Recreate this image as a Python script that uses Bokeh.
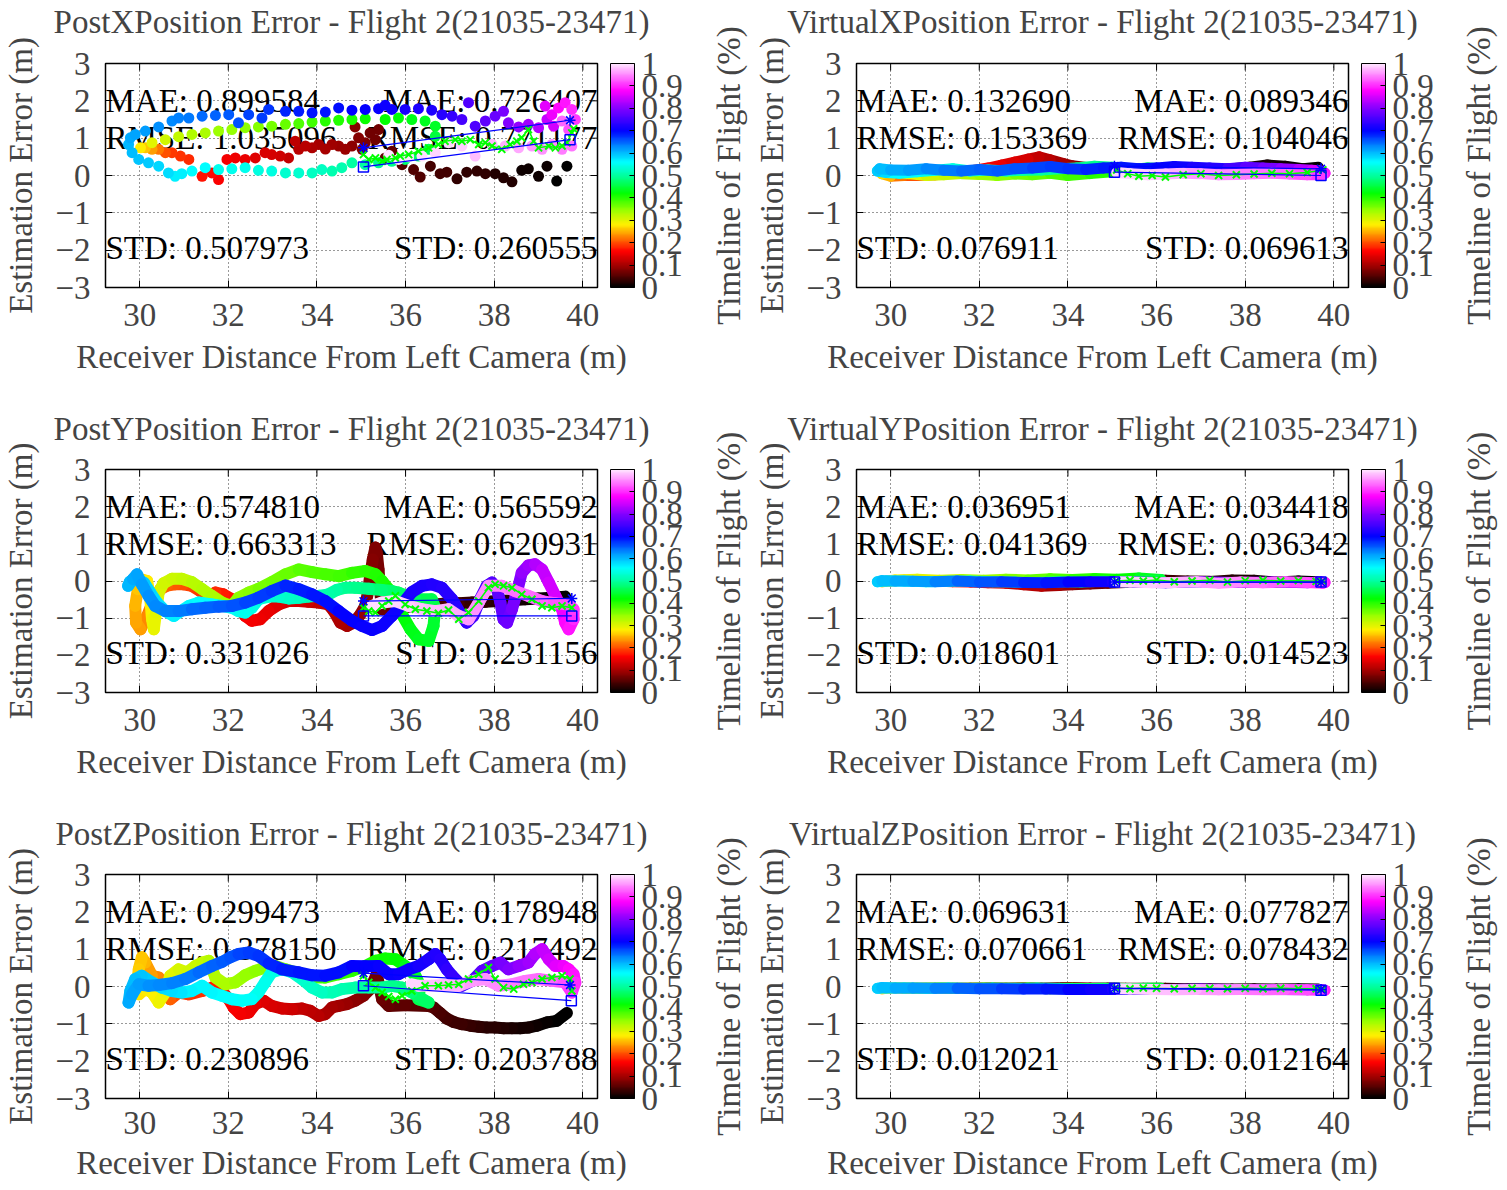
import numpy as np
from bokeh.plotting import figure
from bokeh.models import (Range1d, FixedTicker, ColorBar, LinearColorMapper, Label, LinearAxis,
                          ColumnDataSource, CustomJSTickFormatter, AllLabels)
from bokeh.layouts import column, row
from bokeh.transform import linear_cmap
from bokeh.embed import file_html
from bokeh.resources import INLINE

# ---------------- data ----------------
X_TICKS = [30, 32, 34, 36, 38, 40]
Y_TICKS = [-3, -2, -1, 0, 1, 2, 3]
CB_TICKS = [0, 0.1, 0.2, 0.3, 0.4, 0.5, 0.6, 0.7, 0.8, 0.9, 1]
X_MIN, X_MAX = 29.23, 40.33

TITLES = ["PostXPosition Error - Flight 2(21035-23471)",
          "VirtualXPosition Error - Flight 2(21035-23471)",
          "PostYPosition Error - Flight 2(21035-23471)",
          "VirtualYPosition Error - Flight 2(21035-23471)",
          "PostZPosition Error - Flight 2(21035-23471)",
          "VirtualZPosition Error - Flight 2(21035-23471)"]

STATS_LEFT = [["MAE: 0.899584", "RMSE: 1.035096", "STD: 0.507973"],
              ["MAE: 0.132690", "RMSE: 0.153369", "STD: 0.076911"],
              ["MAE: 0.574810", "RMSE: 0.663313", "STD: 0.331026"],
              ["MAE: 0.036951", "RMSE: 0.041369", "STD: 0.018601"],
              ["MAE: 0.299473", "RMSE: 0.378150", "STD: 0.230896"],
              ["MAE: 0.069631", "RMSE: 0.070661", "STD: 0.012021"]]
STATS_RIGHT = [["MAE: 0.726407", "RMSE: 0.771177", "STD: 0.260555"],
               ["MAE: 0.089346", "RMSE: 0.104046", "STD: 0.069613"],
               ["MAE: 0.565592", "RMSE: 0.620931", "STD: 0.231156"],
               ["MAE: 0.034418", "RMSE: 0.036342", "STD: 0.014523"],
               ["MAE: 0.178948", "RMSE: 0.217492", "STD: 0.203788"],
               ["MAE: 0.077827", "RMSE: 0.078432", "STD: 0.012164"]]

# ---- PostX ----
postx_x = [39.64, 39.41, 39.19, 39.00, 38.77, 38.62, 38.40, 38.21, 38.02, 37.80, 37.61, 37.38, 37.16, 36.93, 36.78, 36.56, 36.33, 36.18, 35.92, 35.69, 35.54,
           35.39, 35.32, 35.20, 35.09, 35.02, 34.94, 34.86, 34.79, 34.64, 34.49, 34.34, 34.19, 34.04, 33.89, 33.74, 33.59, 33.51,
           33.36, 33.17, 32.98, 32.83, 32.61, 32.38, 32.16, 31.97, 31.78, 31.63, 31.41, 31.11, 30.92, 30.73,
           30.58, 30.43, 30.28, 30.13, 30.02,
           30.28, 30.58, 30.88, 31.18, 31.48, 31.78, 32.08, 32.38, 32.68, 32.98, 33.29, 33.59, 33.89, 34.19, 34.49, 34.79, 35.09, 35.54, 35.84, 36.14, 36.44, 36.67,
           36.67, 36.52, 36.29, 35.99, 35.69, 35.39, 35.09, 34.79, 34.56, 34.34, 34.11, 33.89, 33.59, 33.29, 32.98, 32.68, 32.38, 32.08, 31.78, 31.48, 31.18, 30.95, 30.80,
           30.65, 30.43, 30.20, 29.98, 29.83, 29.75, 29.79, 29.90, 30.13, 30.43, 30.73, 30.88,
           31.11, 31.41, 31.71, 32.01, 32.23, 32.46, 32.76, 32.91, 33.29, 33.59, 33.89, 34.19, 34.49, 34.79, 35.09, 35.39, 35.54, 35.69, 35.99, 36.29, 36.59, 36.82,
           37.05, 37.27, 37.42, 37.57, 37.80, 38.02, 38.21, 38.32, 38.55, 38.77, 39.00, 39.19, 39.34,
           39.15, 39.30, 39.45, 39.60, 39.75, 39.83, 39.68, 39.53,
           39.75, 39.53, 39.30, 39.08, 38.85, 38.55, 38.25, 37.95, 37.57, 37.27, 36.97, 36.67, 36.37, 36.07, 35.84, 35.62]
postx_y = [0.25, -0.15, 0.25, -0.02, 0.18, 0.14, -0.17, -0.06, 0.05, 0.05, 0.12, 0.09, -0.09, 0.09, 0.05, 0.25, -0.04, 0.16, 0.29, 0.65, 0.47,
           1.23, 0.96, 1.14, 0.88, 0.70, 1.01, 1.30, 0.79, 0.70, 0.79, 0.83, 0.71, 0.83, 0.74, 0.79, 0.70, 0.92,
           0.47, 0.52, 0.56, 0.61, 0.47, 0.43, 0.47, 0.43, -0.11, 0.07, -0.02, 0.43, 0.52, 0.61,
           0.61, 0.70, 0.70, 0.74, 0.74,
           0.88, 0.96, 1.04, 1.10, 1.14, 1.19, 1.23, 1.28, 1.30, 1.32, 1.37, 1.39, 1.43, 1.46, 1.48, 1.50, 1.52, 1.50, 1.54, 1.50, 1.46, 1.32,
           1.05, 0.70, 0.52, 0.43, 0.38, 0.34, 0.29, 0.34, 0.21, 0.12, 0.16, 0.07, 0.07, 0.07, 0.12, 0.14, 0.21, 0.18, 0.16, 0.21, 0.12, 0.05, -0.02,
           0.07, 0.25, 0.34, 0.43, 0.61, 0.83, 1.01, 1.10, 1.19, 1.30, 1.46, 1.54,
           1.54, 1.59, 1.61, 1.63, 1.41, 1.63, 1.54, 1.77, 1.72, 1.72, 1.68, 1.70, 1.81, 1.75, 1.77, 1.79, 1.88, 1.77, 1.77, 1.79, 1.75, 1.63,
           1.59, 1.50, 1.95, 1.32, 1.46, 1.59, 1.72, 1.41, 1.30, 1.37, 1.28, 1.50, 1.32,
           1.86, 1.63, 1.81, 1.95, 1.77, 1.50, 1.23, 1.46,
           0.79, 0.70, 0.83, 0.70, 0.79, 0.74, 0.79, 0.83, 0.52, 0.79, 0.88, 0.61, 0.52, 0.50, 0.43, 0.54]
postx_t = [0.00, 0.00, 0.01, 0.01, 0.01, 0.01, 0.02, 0.02, 0.02, 0.03, 0.03, 0.03, 0.03, 0.04, 0.04, 0.04, 0.05, 0.05, 0.05, 0.06, 0.06,
           0.07, 0.07, 0.07, 0.075, 0.075, 0.08, 0.08, 0.085, 0.09, 0.09, 0.095, 0.10, 0.10, 0.105, 0.11, 0.11, 0.115,
           0.12, 0.125, 0.13, 0.135, 0.14, 0.145, 0.15, 0.155, 0.16, 0.165, 0.17, 0.18, 0.185, 0.19,
           0.20, 0.22, 0.24, 0.26, 0.28,
           0.30, 0.31, 0.32, 0.33, 0.335, 0.34, 0.345, 0.35, 0.355, 0.36, 0.37, 0.38, 0.39, 0.40, 0.405, 0.41, 0.415, 0.42, 0.425, 0.43, 0.435, 0.44,
           0.45, 0.46, 0.47, 0.48, 0.49, 0.49, 0.50, 0.50, 0.51, 0.51, 0.52, 0.52, 0.53, 0.53, 0.54, 0.54, 0.55, 0.55, 0.55, 0.56, 0.56, 0.57, 0.57,
           0.58, 0.585, 0.59, 0.595, 0.60, 0.605, 0.61, 0.615, 0.62, 0.625, 0.63, 0.635,
           0.64, 0.645, 0.65, 0.655, 0.66, 0.665, 0.67, 0.675, 0.68, 0.685, 0.69, 0.69, 0.695, 0.70, 0.70, 0.705, 0.71, 0.71, 0.715, 0.72, 0.72, 0.73,
           0.74, 0.75, 0.76, 0.76, 0.77, 0.78, 0.79, 0.80, 0.81, 0.82, 0.83, 0.84, 0.85,
           0.86, 0.87, 0.88, 0.89, 0.90, 0.91, 0.92, 0.93,
           0.94, 0.945, 0.95, 0.955, 0.96, 0.965, 0.97, 0.975, 0.98, 0.985, 0.99, 0.99, 0.995, 1.0, 1.0, 1.0]
postx_cross_x = [35.05, 35.17, 35.32, 35.47, 35.58, 35.77, 35.88, 36.07, 36.29, 36.52, 36.74, 36.89, 37.12, 37.27, 37.46, 37.65,
                 37.80, 37.95, 38.17, 38.36, 38.51, 38.62, 38.77, 38.89, 39.00, 39.23, 39.38, 39.53, 39.64, 39.75, 39.79]
postx_cross_y = [0.56, 0.43, 0.47, 0.38, 0.43, 0.47, 0.52, 0.56, 0.65, 0.74, 0.83, 0.92, 0.96, 0.92, 0.96, 0.83,
                 0.88, 0.79, 0.70, 0.83, 0.92, 1.01, 1.23, 0.92, 0.74, 0.79, 0.74, 0.79, 0.88, 1.14, 1.25]
postx_star_x, postx_star_y = [35.05, 39.71], [0.74, 1.48]
postx_sq_x, postx_sq_y = [35.05, 39.71], [0.23, 0.96]

# ---- PostY ----
posty_x = [39.60, 39.30, 39.00, 38.70, 38.40, 38.10, 37.80, 37.50, 37.20, 36.97, 36.50, 36.00, 35.62,
           35.47, 35.43, 35.39, 35.35, 35.32, 35.26, 35.20, 35.15, 35.09, 34.98, 34.83, 34.68, 34.53, 34.38, 34.26,
           34.04, 33.81, 33.59, 33.36, 33.14, 32.91, 32.72, 32.53, 32.38, 32.23, 32.08, 31.89, 31.71, 31.56, 31.37, 31.18, 30.99, 30.80, 30.62, 30.47,
           30.32, 30.17, 30.02, 29.92, 29.90, 29.96, 30.05,
           30.17, 30.24, 30.28, 30.32, 30.37, 30.43, 30.54, 30.73, 30.95, 31.18, 31.41, 31.63, 31.86, 32.08,
           32.23, 32.46, 32.68, 32.98, 33.29, 33.59, 33.89, 34.19, 34.49, 34.79, 35.09, 35.32, 35.47, 35.62, 35.77, 35.92, 36.11, 36.29, 36.52, 36.63, 36.67,
           36.59, 36.22, 35.84, 35.69, 35.47, 35.17, 34.86, 34.64, 34.45, 34.26, 34.04, 33.81, 33.59, 33.36, 33.14, 32.91, 32.68, 32.53, 32.38, 32.23, 32.08, 31.86, 31.63, 31.33, 31.11, 30.88, 30.77,
           30.58, 30.39, 30.24, 30.10, 29.92, 29.78, 29.74, 29.85, 29.94,
           30.05, 30.20, 30.35, 30.58, 30.88, 31.18, 31.48, 31.78, 32.08, 32.38, 32.68, 32.98, 33.29, 33.59, 33.89, 34.19, 34.49, 34.79, 35.02, 35.24, 35.47, 35.69, 35.92, 36.14, 36.37, 36.59, 36.82, 37.05, 37.27, 37.38,
           37.53, 37.68, 37.83, 37.95, 38.06, 38.14, 38.21, 38.29, 38.40, 38.51, 38.62, 38.77, 38.92, 39.08, 39.23, 39.38,
           39.53, 39.60, 39.68, 39.79, 39.79,
           39.68, 39.38, 39.08, 38.77, 38.47, 38.17, 37.87, 37.65, 37.42, 37.20, 36.97, 36.67, 36.37, 36.07, 35.77, 35.47, 35.24]
posty_y = [-0.42, -0.45, -0.47, -0.49, -0.52, -0.54, -0.56, -0.58, -0.60, -0.60, -0.65, -0.70, -0.76,
           -0.76, -0.31, 0.31, 0.76, 0.90, 0.58, 0.13, -0.31, -0.67, -0.90, -1.12, -1.21, -1.12, -0.81, -0.63,
           -0.58, -0.56, -0.54, -0.54, -0.63, -0.81, -1.03, -1.07, -0.94, -0.67, -0.49, -0.36, -0.31, -0.40, -0.27, -0.13, -0.09, -0.09, -0.12, -0.22,
           -0.49, -0.94, -1.30, -1.12, -0.67, -0.22, 0.04,
           0.0, -0.49, -1.03, -1.30, -0.85, -0.31, -0.06, 0.06, 0.06, -0.03, -0.22, -0.40, -0.58, -0.67,
           -0.45, -0.31, -0.21, -0.03, 0.18, 0.31, 0.24, 0.18, 0.13, 0.22, 0.27, 0.18, 0.0, -0.22, -0.54, -0.90, -1.30, -1.57, -1.61, -1.21, -0.72,
           -0.49, -0.49, -0.31, -0.27, -0.24, -0.21, -0.18, -0.18, -0.24, -0.36, -0.40, -0.42, -0.45, -0.47, -0.42, -0.42, -0.49, -0.72, -0.85, -0.81, -0.72, -0.67, -0.63, -0.58, -0.67, -0.85, -0.94,
           -0.81, -0.58, -0.31, -0.05, 0.06, -0.02, -0.13, 0.05, 0.18,
           -0.09, -0.40, -0.67, -0.81, -0.81, -0.76, -0.72, -0.69, -0.67, -0.58, -0.45, -0.27, -0.12, -0.22, -0.36, -0.54, -0.81, -1.07, -1.21, -1.32, -1.21, -0.94, -0.63, -0.30, -0.13, -0.09, -0.18, -0.49, -0.94, -1.12,
           -0.94, -0.49, -0.13, -0.04, -0.22, -0.58, -1.03, -1.12, -0.76, -0.31, 0.22, 0.42, 0.45, 0.31, -0.04, -0.40,
           -0.76, -1.12, -1.30, -1.03, -0.76,
           -0.63, -0.60, -0.54, -0.40, -0.27, -0.13, -0.13, -0.58, -1.03, -0.94, -0.76, -0.81, -0.76, -0.67, -0.54, -0.58, -0.67]
posty_t = [0.00, 0.005, 0.01, 0.015, 0.02, 0.025, 0.03, 0.035, 0.04, 0.045, 0.05, 0.055, 0.06,
           0.065, 0.07, 0.072, 0.075, 0.077, 0.08, 0.082, 0.085, 0.087, 0.09, 0.095, 0.10, 0.105, 0.11, 0.115,
           0.12, 0.125, 0.13, 0.135, 0.14, 0.145, 0.15, 0.155, 0.16, 0.165, 0.17, 0.175, 0.18, 0.185, 0.19, 0.195, 0.20, 0.205, 0.21, 0.215,
           0.22, 0.23, 0.24, 0.245, 0.25, 0.26, 0.27,
           0.28, 0.285, 0.29, 0.295, 0.30, 0.305, 0.31, 0.315, 0.32, 0.325, 0.33, 0.335, 0.34, 0.345,
           0.35, 0.355, 0.36, 0.365, 0.37, 0.375, 0.38, 0.385, 0.39, 0.395, 0.40, 0.405, 0.41, 0.415, 0.42, 0.425, 0.43, 0.435, 0.44, 0.445, 0.45,
           0.46, 0.465, 0.47, 0.475, 0.48, 0.485, 0.49, 0.495, 0.50, 0.505, 0.51, 0.515, 0.52, 0.525, 0.53, 0.535, 0.54, 0.545, 0.55, 0.55, 0.555, 0.555, 0.56, 0.56, 0.565, 0.565, 0.57,
           0.575, 0.58, 0.585, 0.59, 0.595, 0.60, 0.605, 0.61, 0.615,
           0.62, 0.625, 0.63, 0.635, 0.64, 0.645, 0.65, 0.655, 0.66, 0.665, 0.67, 0.675, 0.68, 0.685, 0.69, 0.695, 0.70, 0.70, 0.705, 0.705, 0.71, 0.71, 0.715, 0.72, 0.72, 0.725, 0.73, 0.73, 0.735, 0.74,
           0.75, 0.755, 0.76, 0.765, 0.77, 0.775, 0.78, 0.785, 0.79, 0.80, 0.81, 0.82, 0.83, 0.84, 0.85, 0.855,
           0.87, 0.88, 0.89, 0.90, 0.91,
           0.92, 0.925, 0.93, 0.935, 0.94, 0.945, 0.95, 0.955, 0.96, 0.965, 0.97, 0.975, 0.98, 0.985, 0.99, 0.995, 1.0]
posty_cross_x = [35.05, 35.17, 35.32, 35.47, 35.62, 35.77, 35.99, 36.22, 36.48, 36.74, 36.97, 37.20, 37.42, 37.65, 37.87, 38.02,
                 38.21, 38.40, 38.62, 38.85, 39.08, 39.30, 39.53, 39.75]
posty_cross_y = [-0.72, -0.81, -0.85, -0.67, -0.54, -0.40, -0.63, -0.76, -0.81, -0.87, -0.78, -1.03, -0.85, -0.54, -0.18, -0.09,
                 -0.13, -0.18, -0.36, -0.49, -0.67, -0.72, -0.67, -0.72]
posty_star_x, posty_star_y = [35.05, 39.75], [-0.54, -0.47]
posty_sq_x, posty_sq_y = [35.05, 39.75], [-0.94, -0.94]

# ---- PostZ ----
postz_x = [39.64, 39.41, 39.19, 38.96, 38.77, 38.59, 38.40, 38.21, 38.02, 37.83, 37.65, 37.46, 37.27, 37.08, 36.93, 36.78, 36.63, 36.52, 36.00, 35.62,
           35.47, 35.35, 35.20, 35.05, 34.86, 34.68, 34.49, 34.34, 34.19,
           34.04, 33.85, 33.66, 33.44, 33.21, 32.98, 32.80, 32.61, 32.46, 32.27, 32.12, 32.01, 31.86, 31.71, 31.56, 31.41,
           31.11, 30.88, 30.69, 30.50, 30.43,
           30.28, 30.13, 30.05, 29.98, 29.94, 29.98,
           30.13, 30.28, 30.43, 30.58, 30.69, 30.88, 31.07, 31.26, 31.41, 31.56, 31.71, 31.93, 32.16, 32.38, 32.61, 32.83, 33.06,
           33.29, 33.51, 33.74, 33.96, 34.19, 34.49, 34.79, 35.09, 35.32, 35.54, 35.77, 35.99, 36.22, 36.33, 36.29, 36.52,
           36.14, 35.92, 35.69, 35.47, 35.17, 34.86, 34.56, 34.34, 34.11, 33.89, 33.66, 33.44, 33.21, 32.98, 32.83, 32.68, 32.53, 32.31, 32.08, 31.86, 31.63, 31.41, 31.18, 30.95,
           30.73, 30.50, 30.28, 30.05, 29.90, 29.79, 29.75, 29.83,
           29.98, 30.20, 30.43, 30.73, 31.03, 31.33, 31.63, 31.86, 32.04, 32.23, 32.46, 32.68, 32.91, 33.21, 33.59, 33.89, 34.19, 34.49, 34.79, 35.09, 35.39, 35.62, 35.84, 36.07, 36.29, 36.52, 36.67, 36.78, 36.93, 37.05,
           37.27, 37.50, 37.72, 37.95, 38.14, 38.32, 38.55, 38.77, 38.92, 39.08, 39.23, 39.38,
           39.56, 39.68, 39.79, 39.83, 39.75,
           39.60, 39.30, 39.00, 38.70, 38.40, 38.10, 37.80, 37.50, 37.20, 36.89, 36.59, 36.29, 36.14]
postz_y = [-0.71, -0.92, -0.96, -1.05, -1.10, -1.12, -1.12, -1.12, -1.10, -1.10, -1.08, -1.05, -1.01, -0.95, -0.86, -0.71, -0.56, -0.52, -0.50, -0.52,
           -0.34, 0.33, -0.07, -0.25, -0.38, -0.47, -0.52, -0.56, -0.74,
           -0.79, -0.65, -0.59, -0.61, -0.59, -0.52, -0.38, -0.47, -0.70, -0.74, -0.56, -0.34, -0.12, 0.02, -0.07, -0.12,
           -0.21, -0.16, -0.34, 0.02, 0.24,
           0.29, 0.64, 0.78, 0.46, 0.02, -0.21,
           -0.07, -0.16, -0.43, -0.16, 0.29, 0.46, 0.38, 0.55, 0.64, 0.69, 0.24, 0.06, 0.11, 0.30, 0.42, 0.51, 0.55,
           0.46, 0.38, 0.29, 0.24, 0.24, 0.33, 0.42, 0.55, 0.69, 0.75, 0.73, 0.55, 0.29, 0.02, -0.34, -0.43,
           -0.16, -0.03, 0.02, -0.03, -0.03, -0.03, -0.07, -0.16, -0.16, -0.03, 0.20, 0.38, 0.46, 0.38, 0.11, -0.16, -0.34, -0.38, -0.34, -0.25, -0.16, 0.02, -0.12, -0.16,
           -0.12, -0.03, 0.11, 0.29, 0.20, -0.12, -0.43, -0.21,
           0.06, 0.02, 0.04, 0.09, 0.20, 0.38, 0.55, 0.66, 0.78, 0.87, 0.91, 0.82, 0.62, 0.46, 0.38, 0.30, 0.29, 0.38, 0.55, 0.54, 0.55, 0.33, 0.33, 0.46, 0.55, 0.73, 0.87, 0.73, 0.46, 0.29,
           0.02, 0.15, 0.42, 0.55, 0.64, 0.46, 0.55, 0.64, 0.87, 1.00, 0.73, 0.55,
           0.55, 0.46, 0.33, 0.11, -0.16,
           0.11, 0.15, 0.20, 0.15, 0.06, 0.02, 0.20, 0.15, 0.02, 0.04, 0.02, 0.02, 0.06]
postz_t = [0.00, 0.003, 0.006, 0.009, 0.012, 0.015, 0.018, 0.021, 0.024, 0.027, 0.03, 0.033, 0.036, 0.039, 0.042, 0.045, 0.048, 0.051, 0.055, 0.06,
           0.065, 0.07, 0.075, 0.08, 0.085, 0.09, 0.095, 0.10, 0.105,
           0.11, 0.115, 0.12, 0.125, 0.13, 0.135, 0.14, 0.145, 0.15, 0.155, 0.16, 0.165, 0.17, 0.175, 0.18, 0.185,
           0.19, 0.20, 0.21, 0.22, 0.23,
           0.24, 0.25, 0.26, 0.265, 0.27, 0.275,
           0.28, 0.285, 0.29, 0.295, 0.30, 0.305, 0.31, 0.315, 0.32, 0.325, 0.33, 0.335, 0.34, 0.345, 0.35, 0.355, 0.36,
           0.37, 0.375, 0.38, 0.385, 0.39, 0.395, 0.40, 0.405, 0.41, 0.415, 0.42, 0.43, 0.44, 0.45, 0.46, 0.47,
           0.48, 0.485, 0.49, 0.495, 0.50, 0.505, 0.51, 0.515, 0.52, 0.525, 0.53, 0.535, 0.54, 0.545, 0.55, 0.55, 0.555, 0.555, 0.56, 0.56, 0.565, 0.565, 0.57, 0.575,
           0.58, 0.585, 0.59, 0.595, 0.60, 0.605, 0.61, 0.615,
           0.62, 0.625, 0.63, 0.635, 0.64, 0.645, 0.65, 0.655, 0.66, 0.665, 0.67, 0.675, 0.68, 0.685, 0.69, 0.69, 0.695, 0.695, 0.70, 0.70, 0.705, 0.705, 0.71, 0.71, 0.715, 0.72, 0.725, 0.73, 0.735, 0.74,
           0.75, 0.76, 0.77, 0.78, 0.79, 0.80, 0.81, 0.82, 0.83, 0.84, 0.85, 0.86,
           0.87, 0.88, 0.89, 0.90, 0.91,
           0.92, 0.93, 0.935, 0.94, 0.945, 0.95, 0.955, 0.96, 0.97, 0.975, 0.98, 0.99, 1.0]
postz_cross_x = [35.05, 35.17, 35.32, 35.47, 35.62, 35.77, 35.92, 36.14, 36.44, 36.74, 36.97, 37.20, 37.42, 37.65, 37.87, 38.02,
                 38.21, 38.44, 38.66, 38.85, 39.08, 39.30, 39.53, 39.71, 39.75]
postz_cross_y = [0.29, 0.11, -0.03, -0.16, -0.27, -0.34, -0.25, -0.12, 0.02, 0.02, 0.04, 0.06, 0.20, 0.33, 0.51, 0.20,
                 -0.03, -0.07, 0.06, 0.11, 0.20, 0.24, 0.29, 0.20, -0.12]
postz_star_x, postz_star_y = [35.05, 39.71], [0.36, 0.04]
postz_sq_x, postz_sq_y = [35.05, 39.74], [0.02, -0.38]

# ---- VirtualX ----
virtx_x = [39.65, 39.30, 38.90, 38.50, 38.10, 37.70, 37.30, 36.90, 36.50, 36.10, 35.70,
           35.30, 34.90, 34.50, 34.10,
           33.90, 33.60, 33.35, 33.10, 32.80, 32.50, 32.20, 31.80, 31.40, 31.00, 30.60,
           30.30, 30.00, 29.80,
           30.00, 30.40, 30.80, 31.20, 31.60, 32.00, 32.40, 32.80, 33.20, 33.60, 34.00, 34.50, 35.00, 35.50, 36.00, 36.40,
           36.20, 35.80, 35.40, 35.00, 34.60, 34.20, 33.80, 33.40, 33.00, 32.60, 32.20, 31.80, 31.40, 31.00, 30.60, 30.20,
           29.90, 29.70, 29.75, 30.00,
           30.40, 30.80, 31.20, 31.60, 32.00, 32.40, 32.80, 33.20, 33.60, 34.00, 34.40, 34.80, 35.20, 35.60, 36.00, 36.40, 36.80, 37.20,
           37.60, 38.00, 38.40, 38.80, 39.20, 39.50,
           39.70, 39.80, 39.75,
           39.40, 39.00, 38.60, 38.20, 37.80, 37.40, 37.00, 36.60, 36.20, 35.80, 35.40, 35.10]
virtx_y = [0.22, 0.18, 0.25, 0.28, 0.22, 0.18, 0.15, 0.12, 0.14, 0.12, 0.10,
           0.10, 0.14, 0.20, 0.26,
           0.32, 0.42, 0.50, 0.44, 0.36, 0.28, 0.20, 0.12, 0.06, 0.02, 0.00,
           0.00, -0.02, 0.05,
           0.10, 0.05, 0.00, 0.02, 0.05, 0.03, 0.00, 0.04, 0.02, 0.06, 0.00, 0.05, 0.10, 0.14, 0.10, 0.08,
           0.18, 0.20, 0.16, 0.22, 0.25, 0.20, 0.18, 0.15, 0.14, 0.12, 0.15, 0.12, 0.18, 0.14, 0.10, 0.06,
           0.08, 0.12, 0.18, 0.15,
           0.14, 0.18, 0.14, 0.12, 0.16, 0.12, 0.18, 0.20, 0.24, 0.18, 0.16, 0.20, 0.22, 0.18, 0.20, 0.24, 0.22, 0.20,
           0.18, 0.22, 0.20, 0.18, 0.16, 0.14,
           0.12, 0.06, 0.02,
           0.02, 0.04, 0.06, 0.05, 0.03, 0.02, 0.05, 0.06, 0.04, 0.02, 0.05, 0.08]
virtx_t = [0.00, 0.005, 0.01, 0.015, 0.02, 0.025, 0.03, 0.035, 0.04, 0.045, 0.05,
           0.06, 0.07, 0.08, 0.09,
           0.10, 0.11, 0.12, 0.13, 0.14, 0.15, 0.16, 0.17, 0.18, 0.19, 0.20,
           0.22, 0.25, 0.27,
           0.29, 0.30, 0.31, 0.32, 0.33, 0.34, 0.35, 0.36, 0.37, 0.38, 0.39, 0.40, 0.41, 0.42, 0.43, 0.44,
           0.46, 0.47, 0.48, 0.485, 0.49, 0.495, 0.50, 0.505, 0.51, 0.52, 0.53, 0.535, 0.54, 0.55, 0.555, 0.56,
           0.58, 0.59, 0.60, 0.61,
           0.62, 0.63, 0.64, 0.645, 0.65, 0.655, 0.66, 0.665, 0.67, 0.675, 0.68, 0.685, 0.69, 0.695, 0.70, 0.71, 0.72, 0.73,
           0.75, 0.77, 0.79, 0.81, 0.83, 0.85,
           0.87, 0.89, 0.91,
           0.92, 0.93, 0.94, 0.945, 0.95, 0.955, 0.96, 0.97, 0.98, 0.985, 0.99, 1.00]
virtx_cross_x = [35.10, 35.35, 35.60, 35.90, 36.20, 36.60, 37.00, 37.40, 37.80, 38.20, 38.60, 39.00, 39.40, 39.75]
virtx_cross_y = [0.15, 0.05, -0.02, 0.00, -0.04, 0.02, 0.05, 0.00, 0.02, 0.04, 0.06, 0.05, 0.08, 0.15]
virtx_star_x, virtx_star_y = [35.05, 39.71], [0.25, 0.18]
virtx_sq_x, virtx_sq_y = [35.05, 39.71], [0.09, 0.00]

# ---- VirtualY ----
virty_x = [39.65, 39.20, 38.70, 38.20, 37.70, 37.20, 36.70, 36.20, 35.70,
           35.30, 34.90, 34.50, 34.10,
           33.80, 33.40, 33.00, 32.60, 32.20, 31.80, 31.40, 31.00, 30.60,
           30.30, 30.00, 29.80,
           30.10, 30.60, 31.10, 31.60, 32.10, 32.60, 33.10, 33.60, 34.10, 34.60, 35.10, 35.60, 36.10,
           35.80, 35.30, 34.80, 34.30, 33.80, 33.30, 32.80, 32.30, 31.80, 31.30, 30.80, 30.30,
           29.90, 29.70, 29.80, 30.10,
           30.50, 31.00, 31.50, 32.00, 32.50, 33.00, 33.50, 34.00, 34.50, 35.00,
           35.50, 36.20, 37.00, 37.80, 38.60, 39.40,
           39.70, 39.80, 39.75,
           39.40, 38.90, 38.40, 37.90, 37.40, 36.90, 36.40, 35.90, 35.40, 35.10]
virty_y = [-0.02, 0.00, -0.03, 0.02, 0.03, -0.01, 0.00, 0.02, -0.02,
           -0.04, -0.06, -0.08, -0.10,
           -0.12, -0.14, -0.10, -0.06, -0.05, -0.03, -0.02, 0.00, 0.02,
           0.02, 0.00, -0.02,
           0.03, 0.05, 0.02, 0.04, 0.02, 0.05, 0.03, 0.06, 0.04, 0.07, 0.05, 0.08, 0.04,
           0.00, -0.02, -0.01, -0.03, -0.02, -0.04, -0.03, -0.02, 0.00, -0.01, -0.02, 0.00,
           0.00, -0.02, 0.01, 0.00,
           -0.01, -0.02, 0.00, -0.03, -0.02, -0.04, -0.05, -0.03, -0.02, -0.02,
           -0.03, -0.05, -0.02, -0.04, -0.03, -0.05,
           -0.02, -0.04, -0.06,
           -0.04, -0.02, -0.05, -0.03, -0.06, -0.02, -0.04, -0.05, -0.03, -0.02]
virty_t = [0.00, 0.006, 0.012, 0.018, 0.024, 0.03, 0.036, 0.042, 0.05,
           0.06, 0.07, 0.08, 0.09,
           0.10, 0.11, 0.12, 0.135, 0.15, 0.16, 0.175, 0.19, 0.20,
           0.22, 0.25, 0.27,
           0.29, 0.30, 0.315, 0.33, 0.34, 0.355, 0.37, 0.38, 0.395, 0.41, 0.42, 0.435, 0.45,
           0.46, 0.47, 0.48, 0.49, 0.50, 0.51, 0.515, 0.52, 0.53, 0.54, 0.55, 0.56,
           0.58, 0.59, 0.60, 0.61,
           0.62, 0.635, 0.65, 0.66, 0.67, 0.68, 0.69, 0.70, 0.71, 0.72,
           0.74, 0.76, 0.78, 0.80, 0.82, 0.85,
           0.87, 0.89, 0.91,
           0.92, 0.93, 0.94, 0.95, 0.96, 0.97, 0.98, 0.985, 0.99, 1.00]
virty_cross_x = [35.10, 35.40, 35.70, 36.00, 36.40, 36.80, 37.20, 37.60, 38.00, 38.40, 38.80, 39.20, 39.60, 39.75]
virty_cross_y = [0.00, 0.02, 0.00, 0.03, -0.02, 0.00, 0.02, -0.03, 0.01, 0.02, 0.00, 0.01, -0.01, 0.00]
virty_star_x, virty_star_y = [35.05, 39.71], [-0.03, -0.03]
virty_sq_x, virty_sq_y = [35.05, 39.71], [-0.03, -0.03]

# ---- VirtualZ ----
virtz_x = [39.65, 39.20, 38.70, 38.20, 37.70, 37.20, 36.70, 36.20, 35.70,
           35.30, 34.90, 34.50, 34.10,
           33.80, 33.40, 33.00, 32.60, 32.20, 31.80, 31.40, 31.00, 30.60,
           30.30, 30.00, 29.80,
           30.10, 30.60, 31.10, 31.60, 32.10, 32.60, 33.10, 33.60, 34.10, 34.60, 35.10, 35.60, 36.10,
           35.80, 35.30, 34.80, 34.30, 33.80, 33.30, 32.80, 32.30, 31.80, 31.30, 30.80, 30.30,
           29.90, 29.70, 29.80, 30.10,
           30.50, 31.00, 31.50, 32.00, 32.50, 33.00, 33.50, 34.00, 34.50, 35.00,
           35.50, 36.20, 37.00, 37.80, 38.60, 39.40,
           39.70, 39.80, 39.75,
           39.40, 38.90, 38.40, 37.90, 37.40, 36.90, 36.40, 35.90, 35.40, 35.10]
virtz_y = [-0.07, -0.06, -0.07, -0.06, -0.07, -0.06, -0.06, -0.05, -0.05,
           -0.05, -0.04, -0.04, -0.03,
           -0.03, -0.04, -0.03, -0.04, -0.03, -0.04, -0.05, -0.04, -0.05,
           -0.05, -0.04, -0.06,
           -0.03, -0.04, -0.03, -0.05, -0.04, -0.05, -0.04, -0.06, -0.05, -0.06, -0.05, -0.06, -0.05,
           -0.05, -0.06, -0.05, -0.06, -0.05, -0.04, -0.05, -0.04, -0.05, -0.04, -0.05, -0.04,
           -0.04, -0.05, -0.03, -0.04,
           -0.04, -0.05, -0.05, -0.06, -0.06, -0.07, -0.07, -0.08, -0.08, -0.08,
           -0.08, -0.08, -0.07, -0.08, -0.08, -0.09,
           -0.08, -0.10, -0.11,
           -0.09, -0.08, -0.09, -0.08, -0.09, -0.08, -0.09, -0.08, -0.07, -0.06]
virtz_t = [0.00, 0.006, 0.012, 0.018, 0.024, 0.03, 0.036, 0.042, 0.05,
           0.06, 0.07, 0.08, 0.09,
           0.10, 0.11, 0.12, 0.135, 0.15, 0.16, 0.175, 0.19, 0.20,
           0.22, 0.25, 0.27,
           0.29, 0.30, 0.315, 0.33, 0.34, 0.355, 0.37, 0.38, 0.395, 0.41, 0.42, 0.435, 0.45,
           0.46, 0.47, 0.48, 0.49, 0.50, 0.51, 0.515, 0.52, 0.53, 0.54, 0.55, 0.56,
           0.58, 0.59, 0.60, 0.61,
           0.62, 0.635, 0.65, 0.66, 0.67, 0.68, 0.69, 0.70, 0.71, 0.72,
           0.74, 0.76, 0.78, 0.80, 0.82, 0.85,
           0.87, 0.89, 0.91,
           0.92, 0.93, 0.94, 0.95, 0.96, 0.97, 0.98, 0.985, 0.99, 1.00]
virtz_cross_x = [35.10, 35.40, 35.70, 36.00, 36.40, 36.80, 37.20, 37.60, 38.00, 38.40, 38.80, 39.20, 39.60, 39.75]
virtz_cross_y = [-0.05, -0.06, -0.04, -0.05, -0.06, -0.05, -0.05, -0.06, -0.05, -0.06, -0.05, -0.06, -0.06, -0.07]
virtz_star_x, virtz_star_y = [35.05, 39.71], [-0.05, -0.08]
virtz_sq_x, virtz_sq_y = [35.05, 39.71], [-0.05, -0.10]

# ---------------- style ----------------
FONT = "Liberation Serif"
FS = "33px"

_anchor_pos = [0.00, 0.10, 0.16, 0.23, 0.28, 0.34, 0.42, 0.50, 0.56, 0.63, 0.70, 0.80, 0.88, 1.00]
_anchor_rgb = [(0, 0, 0), (170, 0, 0), (255, 0, 0), (255, 140, 0), (255, 240, 0), (160, 255, 0),
               (0, 255, 0), (0, 255, 160), (0, 255, 255), (0, 140, 255), (0, 0, 255),
               (130, 0, 255), (255, 0, 255), (255, 228, 255)]
_g = np.linspace(0, 1, 256)
_chan = [np.interp(_g, _anchor_pos, [c[i] for c in _anchor_rgb]) for i in range(3)]
PALETTE = ["#%02x%02x%02x" % (int(round(r)), int(round(g)), int(round(b)))
           for r, g, b in zip(*_chan)]

ROW_TOP = [63, 80, 80]
ROW_TITLE_GAP = [24, 23, 23]      # empty space between title box and frame (plus ~1px)
ROW_BOTTOM = [102, 102, 87]
ROW_FH = [224, 223, 224]
ROW_TICK_STANDOFF = [16, 16, 13]
ROW_LABEL_STANDOFF = [10, 10, 8]
COL_LEFT = [99, 102]
COL_RIGHT = [110, 109]
SPACER_W = 44
FW = 492
TICK_PX = 7


def make_panel(idx, xs, ys, ts, cx, cy, sx, sy, qx, qy, band, size):
    r, c = idx // 2, idx % 2
    fh = ROW_FH[r]
    p = figure(frame_width=FW, frame_height=fh,
               x_range=Range1d(X_MIN, X_MAX), y_range=Range1d(-3, 3),
               output_backend="svg", toolbar_location=None,
               min_border_left=COL_LEFT[c], min_border_right=COL_RIGHT[c],
               min_border_top=ROW_TOP[r], min_border_bottom=ROW_BOTTOM[r],
               title=TITLES[idx])
    p.background_fill_color = "white"
    p.border_fill_color = "white"
    p.outline_line_color = "black"
    p.outline_line_width = 1.5
    p.title.text_font = FONT
    p.title.text_font_size = FS
    p.title.text_font_style = "normal"
    p.title.align = "center"
    p.title.standoff = 0

    xa = p.below[0]
    ya = p.left[0]
    xa.ticker = FixedTicker(ticks=X_TICKS)
    ya.ticker = FixedTicker(ticks=Y_TICKS)
    ya.formatter = CustomJSTickFormatter(
        code="return tick < 0 ? '\u2212' + Math.abs(tick) : String(tick);")
    xa.axis_label = "Receiver Distance From Left Camera (m)"
    ya.axis_label = "Estimation Error (m)"
    for ax in (xa, ya):
        ax.axis_label_text_font = FONT
        ax.axis_label_text_font_size = FS
        ax.axis_label_text_font_style = "normal"
        ax.major_label_text_font = FONT
        ax.major_label_text_font_size = FS
        ax.axis_line_color = None
        ax.major_tick_in = TICK_PX
        ax.major_tick_out = 0
        ax.major_tick_line_color = "black"
        ax.minor_tick_line_color = None
    xa.major_label_standoff = ROW_TICK_STANDOFF[r]
    xa.axis_label_standoff = ROW_LABEL_STANDOFF[r]
    ya.major_label_standoff = 15
    ya.axis_label_standoff = 13

    # invisible axis above the frame: its (uncoloured) outer ticks only reserve the gap under the title
    gap = LinearAxis(ticker=FixedTicker(ticks=X_TICKS),
                     formatter=CustomJSTickFormatter(code="return '';"),
                     major_label_text_font_size="1px", major_label_standoff=0,
                     major_tick_out=ROW_TITLE_GAP[r], major_tick_in=0,
                     major_tick_line_color=None, minor_tick_line_color=None,
                     axis_line_color=None)
    p.add_layout(gap, "above")

    p.xgrid.ticker = FixedTicker(ticks=X_TICKS)
    p.ygrid.ticker = FixedTicker(ticks=Y_TICKS)
    p.grid.grid_line_color = "black"
    p.grid.grid_line_dash = "1 3"
    p.grid.grid_line_alpha = 0.8

    # mirrored tick marks on the top and right edges of the frame
    dy = TICK_PX * 6.0 / fh
    dx = TICK_PX * (X_MAX - X_MIN) / FW
    p.segment(x0=X_TICKS, y0=[3] * len(X_TICKS), x1=X_TICKS, y1=[3 - dy] * len(X_TICKS),
              line_color="black", line_width=1)
    p.segment(x0=[X_MAX] * len(Y_TICKS), y0=Y_TICKS, x1=[X_MAX - dx] * len(Y_TICKS), y1=Y_TICKS,
              line_color="black", line_width=1)

    for txt, yv in zip(STATS_LEFT[idx], [2.0, 1.0, -1.93]):
        p.add_layout(Label(x=X_MIN, y=yv, text=txt, text_align="left", text_baseline="middle",
                           text_font=FONT, text_font_size=FS, text_color="black", level="underlay"))
    for txt, yv in zip(STATS_RIGHT[idx], [2.0, 1.0, -1.93]):
        p.add_layout(Label(x=X_MAX, y=yv, text=txt, text_align="right", text_baseline="middle",
                           text_font=FONT, text_font_size=FS, text_color="black", level="underlay"))

    cmap = linear_cmap("t", PALETTE, 0, 1)
    if band:
        seg = ColumnDataSource(dict(x0=xs[:-1], y0=ys[:-1], x1=xs[1:], y1=ys[1:], t=ts[:-1]))
        p.segment("x0", "y0", "x1", "y1", source=seg, line_color=cmap,
                  line_width=size, line_cap="round")
    else:
        src = ColumnDataSource(dict(x=xs, y=ys, t=ts))
        p.scatter("x", "y", source=src, size=size, marker="circle",
                  fill_color=cmap, line_color=None)

    p.line(cx, cy, line_color="#00ff00", line_width=1.5)
    p.scatter(cx, cy, marker="x", size=10, line_color="#00ff00", line_width=2)
    p.line(sx, sy, line_color="#0000ff", line_width=1.2)
    p.scatter(sx, sy, marker="asterisk", size=11, line_color="#0000ff", line_width=1.5)
    p.line(qx, qy, line_color="#0000ff", line_width=1.2)
    p.scatter(qx, qy, marker="square", size=10, fill_color=None,
              line_color="#0000ff", line_width=1.5)

    mapper = LinearColorMapper(palette=PALETTE, low=0, high=1)
    cb = ColorBar(color_mapper=mapper, ticker=FixedTicker(ticks=CB_TICKS),
                  formatter=CustomJSTickFormatter(code="return String(Math.round(tick*10)/10);"),
                  major_label_policy=AllLabels(),
                  width=24, height=fh, margin=0, padding=0, location=(13, 0), label_standoff=7,
                  major_label_text_font=FONT, major_label_text_font_size=FS,
                  major_tick_line_color="black", major_tick_in=5, major_tick_out=0,
                  bar_line_color="black", bar_line_width=1,
                  border_line_color=None, background_fill_color=None)
    p.add_layout(cb, "right")
    return p


def make_timeline_label(r):
    """Narrow companion figure whose left-axis label is the colour bar's title."""
    h = ROW_TOP[r] + ROW_FH[r] + ROW_BOTTOM[r]
    s = figure(width=SPACER_W, height=h, x_range=Range1d(0, 1), y_range=Range1d(0, 1),
               output_backend="svg", toolbar_location=None,
               min_border_left=0, min_border_right=0,
               min_border_top=ROW_TOP[r], min_border_bottom=ROW_BOTTOM[r])
    s.outline_line_color = None
    s.background_fill_color = "white"
    s.border_fill_color = "white"
    s.grid.visible = False
    s.xaxis.visible = False
    ax = s.yaxis[0]
    ax.ticker = FixedTicker(ticks=[])
    ax.axis_line_color = None
    ax.major_tick_line_color = None
    ax.minor_tick_line_color = None
    ax.major_label_standoff = 0
    ax.axis_label = "Timeline of Flight (%)"
    ax.axis_label_standoff = 0
    ax.axis_label_text_font = FONT
    ax.axis_label_text_font_size = FS
    ax.axis_label_text_font_style = "normal"
    return s


panels = [
    make_panel(0, postx_x, postx_y, postx_t, postx_cross_x, postx_cross_y,
               postx_star_x, postx_star_y, postx_sq_x, postx_sq_y, False, 11),
    make_panel(1, virtx_x, virtx_y, virtx_t, virtx_cross_x, virtx_cross_y,
               virtx_star_x, virtx_star_y, virtx_sq_x, virtx_sq_y, True, 11),
    make_panel(2, posty_x, posty_y, posty_t, posty_cross_x, posty_cross_y,
               posty_star_x, posty_star_y, posty_sq_x, posty_sq_y, True, 12),
    make_panel(3, virty_x, virty_y, virty_t, virty_cross_x, virty_cross_y,
               virty_star_x, virty_star_y, virty_sq_x, virty_sq_y, True, 11),
    make_panel(4, postz_x, postz_y, postz_t, postz_cross_x, postz_cross_y,
               postz_star_x, postz_star_y, postz_sq_x, postz_sq_y, True, 12),
    make_panel(5, virtz_x, virtz_y, virtz_t, virtz_cross_x, virtz_cross_y,
               virtz_star_x, virtz_star_y, virtz_sq_x, virtz_sq_y, True, 11),
]

rows = []
for r in range(3):
    rows.append(row(panels[2 * r], make_timeline_label(r),
                    panels[2 * r + 1], make_timeline_label(r)))

layout = column(*rows)
open("out.html", "w").write(file_html(layout, INLINE))
